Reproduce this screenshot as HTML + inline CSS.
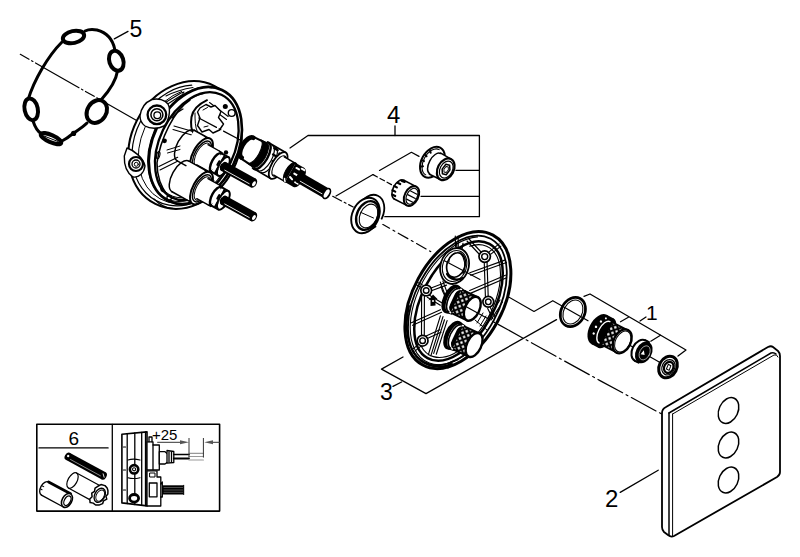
<!DOCTYPE html>
<html><head><meta charset="utf-8">
<style>
html,body{margin:0;padding:0;background:#fff;}
body{width:800px;height:557px;overflow:hidden;}
svg{display:block;}
text{font-family:"Liberation Sans",sans-serif;fill:#000;}
</style></head><body>
<svg width="800" height="557" viewBox="0 0 800 557" fill="none" stroke="#000" stroke-linecap="round" stroke-linejoin="round">
<rect x="0" y="0" width="800" height="557" fill="#fff" stroke="none"/>
<defs>
<pattern id="knurl" width="4.4" height="4.4" patternUnits="userSpaceOnUse" patternTransform="rotate(45)">
<rect width="4.4" height="4.4" fill="#000"/>
<rect x="0.55" y="0.55" width="3.3" height="3.3" fill="#fff"/>
</pattern>
</defs>


<!-- ===== labels ===== -->
<g stroke="none">
<text x="129.5" y="36.5" font-size="23">5</text>
<text x="387" y="123" font-size="24">4</text>
<text x="380" y="400" font-size="23">3</text>
<text x="646" y="319.5" font-size="21">1</text>
<text x="605" y="506.5" font-size="24">2</text>
<text x="68.5" y="444.8" font-size="19">6</text>
<text x="152" y="440.3" font-size="15">+25</text>
</g>

<!-- ===== leader / bracket lines ===== -->
<g stroke-width="1.3">
<line x1="114.3" y1="38.9" x2="128" y2="31.4"/>
<!-- 4 bracket -->
<line x1="395" y1="126" x2="395" y2="135.5"/>
<polyline points="290,148 308,135.5 479.4,135.5 479.4,216.7 384.8,216.7"/>
<line x1="456" y1="170.4" x2="479.4" y2="170.4"/>
<line x1="421" y1="196.3" x2="479.4" y2="196.3"/>
<!-- 3 bracket -->
<polyline points="403,357 381.5,369.1 426,393.6 556.5,319.6"/>
<line x1="393" y1="386.4" x2="401.6" y2="382"/>
<!-- 1 bracket -->
<polyline points="584,296.3 590,294 686,350 678,356"/>
<line x1="640" y1="321" x2="646" y2="317"/>
<!-- 2 leader -->
<line x1="620.2" y1="492.4" x2="658.2" y2="470.2"/>
</g>

<!-- ===== ring (5) ===== -->
<g id="ring">
<path d="M20.3,54.3 L137.5,121" stroke-width="1.2" stroke-dasharray="10,3,1.5,3,50,3,1.5,3"/>
<path d="M62,42 C48,56 34,80 28,100 M33,121 C35,127 37,131 41,133.5 M62,141 C66,139 70,136 73,133.5 C78,130 83,127 87,123 M101,100 C110,90 116,81 117.5,71 M114.7,49 C113,41 108,33 97,30 C92,29 88,29.5 85,31" stroke-width="3"/>
<ellipse cx="73.5" cy="37" rx="10.8" ry="6" transform="rotate(-12 73.5 37)" stroke-width="4" fill="#fff"/>
<ellipse cx="116.3" cy="60.8" rx="7" ry="10.2" transform="rotate(-18 116.3 60.8)" stroke-width="4" fill="#fff"/>
<ellipse cx="31.2" cy="109.3" rx="6.6" ry="11" transform="rotate(-12 31.2 109.3)" stroke-width="4" fill="#fff"/>
<ellipse cx="96.8" cy="111.5" rx="9.5" ry="12" transform="rotate(32 96.8 111.5)" stroke-width="4" fill="#fff"/>
<ellipse cx="51" cy="138.6" rx="11" ry="3.6" transform="rotate(24 51 138.6)" stroke-width="4.2" fill="#fff"/>
<line x1="44" y1="136" x2="58" y2="141.5" stroke-width="1"/>
<circle cx="73.6" cy="133.4" r="2.6" fill="#000" stroke="none"/>
</g>

<!-- ===== housing ===== -->
<g id="housing">
<!-- back silhouette -->
<ellipse cx="185" cy="145" rx="66" ry="54" transform="rotate(-63.3 185 145)" fill="#fff" stroke-width="2"/>
<path d="M218.7,186.1 A62.5,51 -63.3 1 1 191.7,85.2" stroke-width="1.2"/>
<path d="M185.6,203.0 A60,47 -63.3 0 1 181.7,91.4" stroke-width="1"/>
<!-- front rim -->
<ellipse cx="195.4" cy="145.5" rx="61.5" ry="42.4" transform="rotate(-64.4 195.4 145.5)" fill="#fff" stroke-width="2.6"/>
<path d="M224.0,171.0 A60.3,40.5 -64.4 1 1 211.9,87.7" stroke-width="1.1"/>
<ellipse cx="196.8" cy="146.2" rx="57" ry="37.5" transform="rotate(-64.4 196.8 146.2)" stroke-width="2.3"/>
<path d="M213.9,180.6 A55.5,35.5 -64.4 1 1 203.2,93.7" stroke-width="1"/>
<!-- top boss -->
<path d="M140,116 C141,108 146,102 152,99.5 C158,98 165,100 168,104 C171,110 169,121 164,126 C158,129 150,129 145,126 C141,123 140,120 140,116 Z" fill="#fff" stroke-width="1.4"/>
<circle cx="156.9" cy="114.8" r="9.3" fill="#fff" stroke-width="2.3"/>
<circle cx="156.9" cy="114.8" r="6" stroke-width="1.5"/>
<circle cx="157.3" cy="115.3" r="3.4" stroke-width="1.3"/>
<path d="M166.6,101.8 L181,93 L184,92 L182.5,94.5 L168.5,103.5" stroke-width="1.1"/>
<path d="M166,96 C174,92 183,89 193,87.5" stroke-width="1.1"/>
<!-- left boss -->
<path d="M127,148 C133,150 143,157 145,166 C144,173 139,178 133,177 C127,173 124,165 124.3,156 Z" fill="#fff" stroke-width="1.4"/>
<circle cx="136" cy="164" r="7" fill="#fff" stroke-width="2.2"/>
<circle cx="136" cy="164" r="4" stroke-width="1.3"/>
<circle cx="136.3" cy="164.3" r="2" stroke-width="1"/>
<!-- inner ribs / recess details -->
<g stroke-width="1.1">

<path d="M174,126 L194.7,132 M173,129.5 L193.5,135.5"/>
<path d="M158.9,166.6 L177.7,157.2 M160,170 L179,160.5"/>
<path d="M209.5,102.5 L228.2,116.5 M207.5,105.5 L226.5,119.5"/>
<path d="M154,199 C160,205 166,208.5 172.7,208.3"/>
</g>
<circle cx="164.5" cy="140.8" r="2.4" fill="#000" stroke="none"/>
<ellipse cx="162.2" cy="189.7" rx="1.8" ry="2.8" transform="rotate(-30 162.2 189.7)" fill="#000" stroke="none"/>
<circle cx="169.2" cy="197.8" r="2.3" stroke-width="1.3"/>
<circle cx="225.3" cy="106.6" r="2.5" fill="#000" stroke="none"/>
<circle cx="231.7" cy="113" r="3.4" stroke-width="1.4"/>
<ellipse cx="158.2" cy="155.2" rx="1.6" ry="3.6" transform="rotate(15 158.2 155.2)" stroke-width="1.1"/>
<circle cx="226" cy="152.4" r="2.2" fill="#000" stroke="none"/>
<path d="M190,100 C174,110 160,140 157,163 C157,175 160,186 168,196" stroke-width="1.5"/>
<path d="M167,150 L180,146 M167.5,153 L180,149.5" stroke-width="1"/>
<path d="M172,118 C175,114 179,111 183,109" stroke-width="1.2"/>
<!-- port -->
<path d="M207,100.2 C199,104 193,109 191.5,117 C190.5,124 191,130 194,134 C197,137 201,137.5 204,137" stroke-width="2"/>
<path d="M195,113 C195,120 195,127 197.5,132" stroke-width="1"/>
<path d="M200,108 L206,104.5 L211,107 L215,105.5 L221,111.5 L218.5,117.5 L223.5,124 L219.5,130 L213,133 L209,129.5 L202,132 L197.5,125.5 L200,118 L197.5,112 Z" stroke-width="1.4" fill="#fff"/>
<path d="M203,110 L207.5,107.5 M204,127 L208,126" stroke-width="1"/>
<!-- cartridge axis inside housing -->
<path d="M198.8,118 L244.7,142.4" stroke-width="1.2" stroke-dasharray="20,3,2,3"/>
</g>

<g id="valves">
<g transform="translate(219,164) rotate(29)">
<rect x="-38" y="-17.5" width="18" height="35" fill="#fff" stroke="none"/>
<path d="M-38,-17.5 L-20,-17.5 M-38,17.5 L-20,17.5" stroke-width="1.5"/>
<path d="M-38,-17.5 A8.5,17.5 0 0 0 -38,17.5" stroke-width="1.5"/>
<path d="M-27,-17.5 A8.5,17.5 0 0 1 -27,17.5" stroke-width="1"/>
<ellipse cx="-20" cy="0" rx="8.5" ry="18" fill="#fff" stroke-width="2"/>
<ellipse cx="-19.5" cy="0" rx="7" ry="15" stroke-width="1.4"/>
<ellipse cx="-19" cy="0" rx="6" ry="13" stroke-width="1"/>
<rect x="-19" y="-11.5" width="16" height="23" fill="#fff" stroke="none"/>
<path d="M-19,-11.5 L-3,-11.5 M-19,11.5 L-3,11.5" stroke-width="1.4"/>
<path d="M-6,-11.5 A5,11.5 0 0 1 -6,11.5" stroke-width="1"/>
<rect x="-3" y="-10.5" width="8" height="21" fill="#fff" stroke="none"/>
<path d="M-3,-10.5 A4.5,10.5 0 0 0 -3,10.5" stroke-width="2.4"/>
<path d="M-3,-10.5 L5,-10.5 M-3,10.5 L5,10.5" stroke-width="2"/>
<ellipse cx="5" cy="0" rx="4.5" ry="10.5" fill="#fff" stroke-width="2"/>
<path d="M1,-9.5 L1,-5 M1,5 L1,9.5 M-1,-2.5 L-1,1.5 M3,-1 L3,2" stroke-width="2.2"/>
<rect x="5" y="-5" width="34.5" height="10" fill="#000" stroke="none"/>
<ellipse cx="5" cy="0" rx="2.5" ry="5" fill="#000" stroke="none"/>
<path d="M8,2.6 L36,2.6" stroke="#fff" stroke-width="0.8"/>
<ellipse cx="39.5" cy="0" rx="3.1" ry="5" fill="#000" stroke="none"/>
<ellipse cx="40.1" cy="0.3" rx="1.5" ry="2.7" fill="#fff" stroke="none"/>
</g>
<g transform="translate(219,197.8) rotate(29)">
<rect x="-44" y="-17.5" width="24" height="35" fill="#fff" stroke="none"/>
<path d="M-44,-17.5 L-20,-17.5 M-44,17.5 L-20,17.5" stroke-width="1.5"/>
<path d="M-44,-17.5 A8.5,17.5 0 0 0 -44,17.5" stroke-width="1.5"/>
<path d="M-27,-17.5 A8.5,17.5 0 0 1 -27,17.5" stroke-width="1"/>
<ellipse cx="-20" cy="0" rx="8.5" ry="18" fill="#fff" stroke-width="2"/>
<ellipse cx="-19.5" cy="0" rx="7" ry="15" stroke-width="1.4"/>
<ellipse cx="-19" cy="0" rx="6" ry="13" stroke-width="1"/>
<rect x="-19" y="-11.5" width="16" height="23" fill="#fff" stroke="none"/>
<path d="M-19,-11.5 L-3,-11.5 M-19,11.5 L-3,11.5" stroke-width="1.4"/>
<path d="M-6,-11.5 A5,11.5 0 0 1 -6,11.5" stroke-width="1"/>
<rect x="-3" y="-10.5" width="8" height="21" fill="#fff" stroke="none"/>
<path d="M-3,-10.5 A4.5,10.5 0 0 0 -3,10.5" stroke-width="2.4"/>
<path d="M-3,-10.5 L5,-10.5 M-3,10.5 L5,10.5" stroke-width="2"/>
<ellipse cx="5" cy="0" rx="4.5" ry="10.5" fill="#fff" stroke-width="2"/>
<path d="M1,-9.5 L1,-5 M1,5 L1,9.5 M-1,-2.5 L-1,1.5 M3,-1 L3,2" stroke-width="2.2"/>
<rect x="5" y="-5" width="34.5" height="10" fill="#000" stroke="none"/>
<ellipse cx="5" cy="0" rx="2.5" ry="5" fill="#000" stroke="none"/>
<path d="M8,2.6 L36,2.6" stroke="#fff" stroke-width="0.8"/>
<ellipse cx="39.5" cy="0" rx="3.1" ry="5" fill="#000" stroke="none"/>
<ellipse cx="40.1" cy="0.3" rx="1.5" ry="2.7" fill="#fff" stroke="none"/>
</g>
</g>

<!-- ===== cartridge (4) ===== -->
<g id="cartridge" transform="translate(247,147.5) rotate(30)">
<rect x="0" y="-12.5" width="16" height="25" fill="#fff" stroke="none"/>
<path d="M0,-12.5 L16,-13.5 M0,12.5 L16,13.5" stroke-width="2"/>
<path d="M0.5,-11.5 A5.5,11.5 0 0 0 0.5,11.5" stroke-width="4.6"/>
<rect x="15" y="-15" width="21" height="30" fill="#fff" stroke="none"/>
<path d="M15,-15 L36,-15 M15,15 L36,15" stroke-width="1.7"/>
<path d="M8,-13.5 A5.5,13.5 0 0 1 8,13.5 L15,14 A5.8,14 0 0 0 15,-14 Z" fill="#000" stroke="#000" stroke-width="1"/>
<path d="M16.5,-15 A6.5,15 0 0 1 16.5,15" stroke-width="2.4"/>
<path d="M21,-14.5 A6.5,14.5 0 0 1 21,14.5" stroke-width="1.2"/>
<path d="M24.5,-14.5 A6.5,14.5 0 0 1 24.5,14.5" stroke-width="1.2"/>
<path d="M24,-13 L28,-13 M31,-11 L34,-11 M26,-7 L29,-7 M32,-5 L35,-5 M29,-1 L32,-1" stroke-width="2.2"/>
<ellipse cx="36" cy="0" rx="6.5" ry="15" fill="#fff" stroke-width="1.8"/>
<ellipse cx="37" cy="0" rx="5" ry="11.5" stroke-width="1.1"/>
<rect x="37" y="-10.5" width="14" height="21" fill="#fff" stroke="none"/>
<path d="M37,-10.5 L51,-10.5 M37,10.5 L51,10.5" stroke-width="1.5"/>
<rect x="50" y="-11" width="10" height="22" fill="#000" stroke="none"/>
<path d="M50,-11 A5,11 0 0 0 50,11" fill="#000" stroke-width="1"/>
<ellipse cx="60" cy="0" rx="5" ry="11" fill="#000" stroke="none"/>
<path d="M53,-7 L56,-7 M58,-9 L61,-9 M52,4 L55,5 M59,6 L62,6 M54,-1 L57,-1" stroke="#fff" stroke-width="2"/>
<path d="M48,8 A5,11 0 0 0 50,10.5" stroke="#fff" stroke-width="1.5"/>
<rect x="60" y="-5.5" width="32" height="11" fill="#000" stroke="none"/>
<ellipse cx="60" cy="0" rx="2.8" ry="5.5" fill="#000" stroke="none"/>
<path d="M63,2.6 L89,2.6" stroke="#fff" stroke-width="0.8"/>
<ellipse cx="92" cy="0" rx="3" ry="5.5" fill="#fff" stroke-width="1.7"/>
</g>

<!-- item 4 axis lines -->
<g stroke-width="1.2">
<path d="M336,196 L373,174.6"/>
<path d="M373,174.6 L394,186" stroke-dasharray="5,3"/>
<path d="M379.5,170.4 L411.4,152.3 L419,156.4"/>
<path d="M332.7,196.3 L353.2,207" stroke-dasharray="10,3,2,3"/>
<path d="M380,222.8 L430.7,251.6" stroke-dasharray="11,4,2,4"/>
</g>

<!-- top sleeve -->
<g id="sleeve" transform="translate(445.7,169.3) rotate(28)">
<ellipse cx="-15" cy="0" rx="11" ry="16.5" fill="#fff" stroke-width="2"/>
<path d="M-15,-14.3 A9,14.3 0 0 0 -15,14.3" stroke-width="1.1"/>
<path d="M-22.5,-9 L-21,-7.5 M-24.5,-3 L-23,-2.5 M-24.5,3 L-23,3 M-23,9 L-21.5,8" stroke-width="2"/>
<rect x="-13" y="-12" width="13" height="24" fill="#fff" stroke="none"/>
<path d="M-12,-12 L0,-11.5 M-12,12 L0,11.5" stroke-width="1.6"/>
<path d="M-12,-11.5 A6,11.5 0 0 0 -12,11.5" stroke-width="1.5"/>
<ellipse cx="0" cy="0" rx="8" ry="11.5" fill="#fff" stroke-width="2.2"/>
<ellipse cx="0.6" cy="0" rx="6.2" ry="9" stroke-width="1.2"/>
<path d="M-2.2,-4.5 L1.5,-5.5 L4,-1.5 L3,4.5 L-0.8,5.5 L-3.2,1.5 Z" stroke-width="1.5"/>
<path d="M-1,-2.6 L1.2,-3.2 L2.6,-0.8 L2,2.6 L-0.2,3.2 L-1.6,0.8 Z" stroke-width="0.9"/>
</g>

<!-- splined ring -->
<g id="spline" transform="translate(411.5,196) rotate(27)">
<rect x="-14" y="-10.5" width="14" height="21" fill="#fff" stroke="none"/>
<path d="M-14,-10.5 L0,-10.5 M-14,10.5 L0,10.5" stroke-width="1.6"/>
<path d="M-14,-10.5 A6,10.5 0 0 0 -14,10.5" stroke-width="1.6"/>
<path d="M-15.5,-9 L-12.5,-9.5 M-18.5,-5.5 L-15.5,-5.5 M-20,-1 L-17,-1 M-19.5,3.5 L-16.5,3.5 M-17.5,7.5 L-14.5,7.5" stroke-width="2.2"/>
<ellipse cx="0" cy="0" rx="6.8" ry="10.5" fill="#fff" stroke-width="2"/>
<ellipse cx="0.5" cy="0" rx="5.2" ry="8.5" stroke-width="1.1"/>
<path d="M-3,-4 L4,-4 M-4,0.5 L4.5,0.5 M-3,5 L4,5" stroke-width="1.2"/>
</g>

<!-- nut -->
<g id="nut">
<ellipse cx="370" cy="212.5" rx="13.2" ry="18.5" transform="rotate(25 370 212.5)" fill="#fff" stroke-width="1.8"/>
<path d="M355,207 L360,204 L385,222 L378,228 Z" fill="#fff" stroke="none"/>
<ellipse cx="365.5" cy="215.5" rx="13.2" ry="18.5" transform="rotate(25 365.5 215.5)" fill="#fff" stroke-width="1.9"/>
<ellipse cx="367.5" cy="215.5" rx="10.5" ry="15" transform="rotate(25 367.5 215.5)" stroke-width="2.4"/>
<ellipse cx="368.5" cy="216" rx="8.5" ry="12.5" transform="rotate(25 368.5 216)" stroke-width="1.1"/>
<path d="M361,212.5 L373.5,218" stroke-width="1"/>
</g>

<!-- ===== plate (3) ===== -->
<g id="plate">
<ellipse cx="457.9" cy="300.1" rx="73.8" ry="45.1" transform="rotate(-61.6 457.9 300.1)" fill="#fff" stroke-width="3"/>
<ellipse cx="457.4" cy="300.4" rx="70" ry="41.5" transform="rotate(-61.6 457.4 300.4)" stroke-width="1.8"/>
<path d="M473.6,348.1 A69.2,40.9 -61.6 1 1 477.5,236.9" stroke-width="1.1"/>
<ellipse cx="458.5" cy="301" rx="65" ry="36" transform="rotate(-61.6 458.5 301)" stroke-width="2.5"/>
<path d="M469.6,246.2 A61.5,33.5 -61.6 1 1 421.4,346.4" stroke-width="1.1"/>
<!-- crescent lower-left (plate lip) -->
<path d="M409,306 C404,328 407,350 421,361 C431,368 442,368 452,364" stroke-width="2"/>
<path d="M448,368 L451,362 L458,359.5" stroke-width="1.4"/>
<!-- ribs -->
<g stroke-width="1.15">
<path d="M484.2,261.0 L485.5,299.5 M487.0,261.0 L488.3,299.5"/>
<path d="M470.8,275.3 L506.5,262.5 M469.8,272.7 L505.5,259.9"/>
<path d="M470.9,293.1 L506.6,277.8 M469.7,290.5 L505.4,275.2"/>
<path d="M481.5,252.5 L469.0,239.0 M479.5,254.5 L467.0,241.0"/>
<path d="M490.9,254.1 L500.9,246.1 M489.1,251.9 L499.1,243.9"/>
<path d="M487.7,308.6 L492.7,318.6 M490.3,307.4 L495.3,317.4"/>
<path d="M431.4,290.8 L446.5,285.1 M430.4,288.2 L445.5,282.5"/>
<path d="M421.6,296.0 L421.5,336.0 M424.4,296.0 L424.3,336.0"/>
<path d="M412.6,325.3 L441.6,312.3 M411.4,322.7 L440.4,309.7"/>
<path d="M426.2,339.0 L441.0,332.3 M425.0,336.4 L439.8,329.7"/>
<path d="M430.9,355.6 L443.0,316.6 M428.3,354.8 L440.4,315.8"/>
<path d="M436.3,354.2 L447.1,320.6 M433.7,353.4 L444.5,319.8"/>
<path d="M422.2,284.8 L417.7,282.4 M420.8,287.2 L416.3,284.8"/>
<path d="M440.3,282.1 L446.1,297.9 M442.9,281.1 L448.7,296.9"/>
<path d="M455.3,236.0 L455.5,247.0 M458.1,236.0 L458.3,247.0"/>
<path d="M427.3,297.2 L440.3,305.2 M428.7,294.8 L441.7,302.8"/>
<path d="M419.1,343.9 L413.1,348.9 M420.9,346.1 L414.9,351.1"/>
<path d="M447.5,301.3 L466.5,293.3 M446.5,298.7 L465.5,290.7"/>
<path d="M441,286 C443,294 446,298 449,299"/>
<path d="M488,318 L500,300 M491,320 L502.5,302"/>
</g>
<!-- hatch V between knobs -->
<g stroke-width="1">
<path d="M477,323 L483,313 M480,326 L486,316 M483,329 L489,319 M475,320 L487,330"/>
</g>
<!-- port hole -->
<path d="M457,248.5 L456.5,243 M462,249 L463,243.5" stroke-width="1.3"/>
<ellipse cx="454.6" cy="266" rx="14" ry="18.3" transform="rotate(18 454.6 266)" fill="#fff" stroke-width="1.8"/>
<ellipse cx="454.6" cy="266" rx="11.8" ry="15.8" transform="rotate(18 454.6 266)" stroke-width="1.1"/>
<ellipse cx="456" cy="265" rx="9" ry="12.5" transform="rotate(18 456 265)" stroke-width="1.7"/>
<path d="M460,253 C465,257 466,266 463,274" stroke-width="1.1"/>
<path d="M447,274 C450,279.5 457,281 463,278" stroke-width="2.2"/>
<path d="M449,262 C449,257 452,254 455,253" stroke-width="1"/>
<!-- small bosses -->
<circle cx="484.7" cy="256.6" r="5.7" fill="#fff" stroke-width="1.7"/>
<circle cx="484.7" cy="256.6" r="3" stroke-width="1.4"/>
<circle cx="488.3" cy="301.8" r="5.4" fill="#fff" stroke-width="1.7"/>
<circle cx="488.3" cy="301.8" r="2.8" stroke-width="1.4"/>
<circle cx="426.2" cy="290.5" r="5.4" fill="#fff" stroke-width="1.7"/>
<circle cx="426.2" cy="290.5" r="2.8" stroke-width="1.4"/>
<circle cx="422.6" cy="340.7" r="5.4" fill="#fff" stroke-width="1.7"/>
<circle cx="422.6" cy="340.7" r="2.8" stroke-width="1.4"/>
<!-- arrow symbol -->
<path d="M430.5,306 L430.5,299.5 L428.3,300.5 L433,294.5 L437.5,299 L435.5,299 L435.5,305.5 Z" fill="#000" stroke="none"/>
<circle cx="433" cy="301" r="1" fill="#fff" stroke="none"/>
<!-- axis through plate -->
<path d="M444,260.5 L480,279.6" stroke-width="1.1"/>
</g>

<!-- knobs -->
<g transform="translate(472.3,308.7) rotate(25)">
<ellipse cx="-23" cy="0" rx="8.5" ry="15.5" fill="#000" stroke="none"/>
<ellipse cx="-21" cy="0" rx="6" ry="13" fill="#fff" stroke="none"/>
<path d="M-22,-15 L-16,-14 L-16,14 L-22,15 Z" fill="#000" stroke="none"/>
<rect x="-18" y="-12.8" width="18" height="25.6" fill="url(#knurl)" stroke="none"/>
<path d="M-18,-12.8 L0,-12.8 M-18,12.8 L0,12.8" stroke-width="2"/>
<path d="M-18,-12.8 A6,12.8 0 0 0 -18,12.8" stroke="#fff" stroke-width="1.6"/>
<path d="M-20,-12.8 A6,12.8 0 0 0 -20,12.8" stroke-width="1.6"/>
<ellipse cx="0" cy="0" rx="7.2" ry="12.8" fill="#fff" stroke-width="2.4"/>
</g>
<g transform="translate(474.1,345) rotate(25)">
<ellipse cx="-23" cy="0" rx="8.5" ry="15.5" fill="#000" stroke="none"/>
<ellipse cx="-21" cy="0" rx="6" ry="13" fill="#fff" stroke="none"/>
<path d="M-22,-15 L-16,-14 L-16,14 L-22,15 Z" fill="#000" stroke="none"/>
<rect x="-18" y="-12.8" width="18" height="25.6" fill="url(#knurl)" stroke="none"/>
<path d="M-18,-12.8 L0,-12.8 M-18,12.8 L0,12.8" stroke-width="2"/>
<path d="M-18,-12.8 A6,12.8 0 0 0 -18,12.8" stroke="#fff" stroke-width="1.6"/>
<path d="M-20,-12.8 A6,12.8 0 0 0 -20,12.8" stroke-width="1.6"/>
<ellipse cx="0" cy="0" rx="7.2" ry="12.8" fill="#fff" stroke-width="2.4"/>
</g>

<!-- main axis through plate to cover -->
<g stroke-width="1.2">
<path d="M464.9,306 L600,380.6 L661.7,414" stroke-dasharray="28,4,2,4"/>
<path d="M507.5,296.3 L534,311.4 L552.8,300.7 L588,320.8" />
</g>

<!-- ===== item 1 ===== -->
<g id="item1">
<!-- extra bracket lines -->
<g stroke-width="1.2">
<path d="M620.5,321.8 L628.4,317.3"/>
<path d="M650.8,341.2 L660.5,335.2"/>
<path d="M629.3,345 L660.5,362.7"/>
</g>
<!-- O-ring -->
<ellipse cx="572.9" cy="312" rx="11.8" ry="15.3" transform="rotate(28 572.9 312)" stroke-width="2.6"/>
<ellipse cx="572.9" cy="312" rx="9.2" ry="12.6" transform="rotate(28 572.9 312)" stroke-width="1.1"/>
<!-- knurled insert -->
<g transform="translate(600,330) rotate(27)">
<ellipse cx="-1" cy="0" rx="10" ry="16.5" fill="#000" stroke="none"/>
<rect x="-1" y="-16.5" width="8" height="33" fill="#000" stroke="none"/>
<ellipse cx="7" cy="0" rx="7.5" ry="16.5" fill="#000" stroke="none"/>
<circle cx="-3" cy="-8" r="1.2" fill="#fff" stroke="none"/>
<circle cx="-5" cy="-1" r="1.2" fill="#fff" stroke="none"/>
<circle cx="-4" cy="6" r="1.2" fill="#fff" stroke="none"/>
<circle cx="0" cy="-13" r="1" fill="#fff" stroke="none"/>
<path d="M5,-12 A6,12 0 0 0 5,12" stroke="#fff" stroke-width="1.4"/>
<rect x="8" y="-12.5" width="17" height="25" fill="url(#knurl)" stroke="none"/>
<path d="M8,-12.5 L25,-12.5 M8,12.5 L25,12.5" stroke-width="1.8"/>
<ellipse cx="25" cy="0" rx="8.5" ry="12.8" fill="#fff" stroke-width="2.2"/>
<ellipse cx="25.5" cy="0" rx="7.2" ry="11.2" stroke-width="1"/>
</g>
<!-- disc -->
<g transform="translate(642,351.5) rotate(27)">
<ellipse cx="-2" cy="0" rx="8" ry="11.5" fill="#fff" stroke-width="2"/>
<rect x="-2" y="-11.5" width="4" height="23" fill="#fff" stroke="none"/>
<path d="M-2,-11.5 L2,-11.5 M-2,11.5 L2,11.5" stroke-width="2"/>
<ellipse cx="2" cy="0" rx="8" ry="11.5" fill="#000" stroke="none"/>
<ellipse cx="3" cy="0" rx="5" ry="7.5" stroke="#fff" stroke-width="0.8" opacity="0.7"/>
<path d="M1,-2 L4,2 L0,3 Z" fill="#fff" stroke="none"/>
</g>
<!-- washer -->
<g transform="translate(668,367) rotate(27)">
<ellipse cx="0" cy="0" rx="8.8" ry="11.3" fill="#fff" stroke-width="3"/>
<ellipse cx="0.5" cy="0" rx="6.3" ry="8" stroke-width="1.2"/>
<ellipse cx="0.8" cy="0" rx="4.5" ry="5.8" stroke-width="2.2"/>
<path d="M-1,-2.5 L2,-2.5 L2.5,2.5 L-0.5,2.5 Z" stroke-width="1"/>
</g>
</g>

<!-- ===== cover plate (2) ===== -->
<g id="cover">
<path d="M666,407 L768,347 Q771,345.5 773,347 L778,351 Q780,353 780,356 L780,472 Q780,475 777,477 L674,536 Q671,537.5 668,535 L664,532 Q662,530 662,527 L662,413 Q662,409 666,407 Z" fill="#fff" stroke-width="1.8"/>
<path d="M669,413 L771,353 Q774,352 776,354" stroke-width="1.5"/>
<path d="M669,413 L669,535" stroke-width="1.5"/>
<path d="M672.6,414 L774,355 Q777,354 778,357" stroke-width="1"/>
<path d="M672.6,414 L672.6,536" stroke-width="1"/>
<ellipse cx="728.5" cy="410.5" rx="9.5" ry="13.5" transform="rotate(25 728.5 410.5)" stroke-width="1.5"/>
<ellipse cx="728.5" cy="445" rx="9.5" ry="13.5" transform="rotate(25 728.5 445)" stroke-width="1.5"/>
<ellipse cx="728.5" cy="480" rx="9.5" ry="13.5" transform="rotate(25 728.5 480)" stroke-width="1.5"/>
</g>

<!-- ===== inset box (6) ===== -->
<g id="inset">
<rect x="36.8" y="424.3" width="182.8" height="86.8" stroke-width="1.6"/>
<line x1="112.3" y1="424.3" x2="112.3" y2="511.1" stroke-width="1.3"/>
<line x1="39" y1="447.9" x2="108.1" y2="447.9" stroke-width="1.3"/>
<!-- pin -->
<g transform="translate(67.7,456.3) rotate(28.5)">
<rect x="0" y="-4" width="41" height="8" fill="#000" stroke="none"/>
<ellipse cx="0" cy="0" rx="2.8" ry="4" fill="#000" stroke="none"/>
<ellipse cx="41" cy="0" rx="2.8" ry="4" fill="#000" stroke="none"/>
<circle cx="0.3" cy="-0.5" r="1.2" fill="#fff" stroke="none"/>
<path d="M4,1.5 L38,1.5" stroke="#fff" stroke-width="0.6" opacity="0.8"/>
<path d="M39.5,-1.5 L42,1" stroke="#fff" stroke-width="0.8"/>
</g>
<!-- sleeve L -->
<g transform="translate(45,488.5) rotate(28.5)">
<rect x="0" y="-7.5" width="25" height="15" fill="#fff" stroke="none"/>
<path d="M0,-7.5 L25,-7.5" stroke-width="2.8"/>
<path d="M0,7.5 L25,7.5" stroke-width="1.3"/>
<path d="M0,-7.5 A4.5,7.5 0 0 0 0,7.5" stroke-width="1.3"/>
<path d="M-3.5,-1 L-2,-1 M-3.5,2.5 L-2,2.5" stroke-width="1"/>
<ellipse cx="25" cy="0" rx="4.8" ry="7.5" fill="#fff" stroke-width="1.6"/>
<ellipse cx="25.5" cy="0" rx="3" ry="5.2" stroke-width="1.3"/>
</g>
<!-- sleeve R -->
<g transform="translate(72.5,480.5) rotate(28.5)">
<rect x="0" y="-8.6" width="31" height="17.2" fill="#fff" stroke="none"/>
<path d="M0,-8.6 L31,-8.6 M0,8.6 L31,8.6" stroke-width="1.2"/>
<path d="M0,-8.6 A4.5,8.6 0 0 0 0,8.6 A4.5,8.6 0 0 0 0,-8.6" stroke-width="1.2"/>
<path d="M31,-11 L34,-10 L36,-8 L37.5,-5 L37,-2 L39,0 L37,3 L37.5,6 L35,9 L32,10.5 L29,10 L26,11 L24,8 L25,5 L23,2 L24.5,-1 L23.5,-4 L25,-7 L27,-10 Z" fill="#fff" stroke-width="1.5"/>
<ellipse cx="31" cy="0" rx="5" ry="7.5" fill="#fff" stroke-width="1.4"/>
<ellipse cx="31.5" cy="0" rx="3.8" ry="6" stroke-width="0.9"/>
</g>
<!-- side view housing -->
<g stroke-width="1.3">
<path d="M121.9,434.2 L147,431.9 L147,505.9 L121.9,502.9 Z" fill="#fff" stroke-width="1.6"/>
<path d="M127.2,433.7 L127.2,503.5 M134.8,433 L134.8,504.5 M141.7,432.4 L141.7,505.2 M145.5,432 L145.5,505.7"/>
<path d="M128,460 C131,459 136,459 140,460 M128,477.7 C131,478.7 136,478.7 140,477.7" stroke-width="1.1"/>
<circle cx="134.1" cy="469.3" r="4.2" stroke-width="2.6" fill="#fff"/>
<circle cx="134.1" cy="469.3" r="1.6" stroke-width="1.1"/>
<ellipse cx="134.1" cy="498.3" rx="4.5" ry="3.8" stroke-width="2.8" fill="#fff"/>
<path d="M123.5,447 L125.5,447 M123.5,490 L125.5,490 M123.5,470 L125.5,470" stroke-width="1.2"/>
<path d="M147,441.8 L153,441.8 L153,445 L159.3,445 L159.3,470 L147,470 Z" fill="#fff"/>
<path d="M153,445 L153,470 M149,441.8 L149,437 L152,437 L152,441.8"/>
<path d="M159.3,451.7 L165,451.7 L167.7,454 L167.7,462 L165,464 L159.3,464 Z" fill="#fff"/>
<path d="M167,450.5 L173.8,451.5 L173.8,462.5 L167,463.2 Z" fill="#fff"/>
<path d="M169,452 L169,462 M171.5,452 L171.5,462"/>
<path d="M147,470.8 L157,470.8 L157,477 L160.8,477 L160.8,506 L147,506 Z" fill="#fff"/>
<path d="M149.3,483 L157,483 L157,496.8 L149.3,496.8 Z"/>
<path d="M150,473 L155,473 L155,477 L150,477 Z" stroke-width="1"/>
<path d="M160.8,484 L162.3,482 L162.3,497 L160.8,497"/>
<rect x="162.3" y="485.3" width="21.4" height="9.2" fill="#000" stroke="none"/>
<path d="M164,487.5 L183,487.5 M164,490 L183,490 M164,492.3 L183,492.3" stroke="#fff" stroke-width="0.5" opacity="0.6"/>
<path d="M183.7,485.3 L183.7,494.5" stroke-width="1"/>
</g>
<!-- rod + dims -->
<path d="M173.8,454.5 L189,454.5" stroke-width="1.6"/>
<path d="M173.8,458.5 L189,458.5" stroke-width="1.8"/>
<path d="M189,453.3 L203.4,453.3 M189,456.5 L203.4,456.5 M189,460 L203.4,460" stroke="#999" stroke-width="1.2"/>
<path d="M157.6,442.3 L182,442.3" stroke-width="1" stroke="#333"/>
<path d="M189,442.3 L180,440.3 L180,444.3 Z" fill="#555" stroke="none"/>
<path d="M189,438.4 L189,457.2" stroke-width="1" stroke="#333"/>
<path d="M203.4,438.4 L203.4,457.2" stroke-width="1" stroke="#333"/>
<path d="M219.6,442.3 L211,442.3" stroke-width="1" stroke="#333"/>
<path d="M204.3,442.3 L213,440.3 L213,444.3 Z" fill="#555" stroke="none"/>
</g>

</svg>
</body></html>
